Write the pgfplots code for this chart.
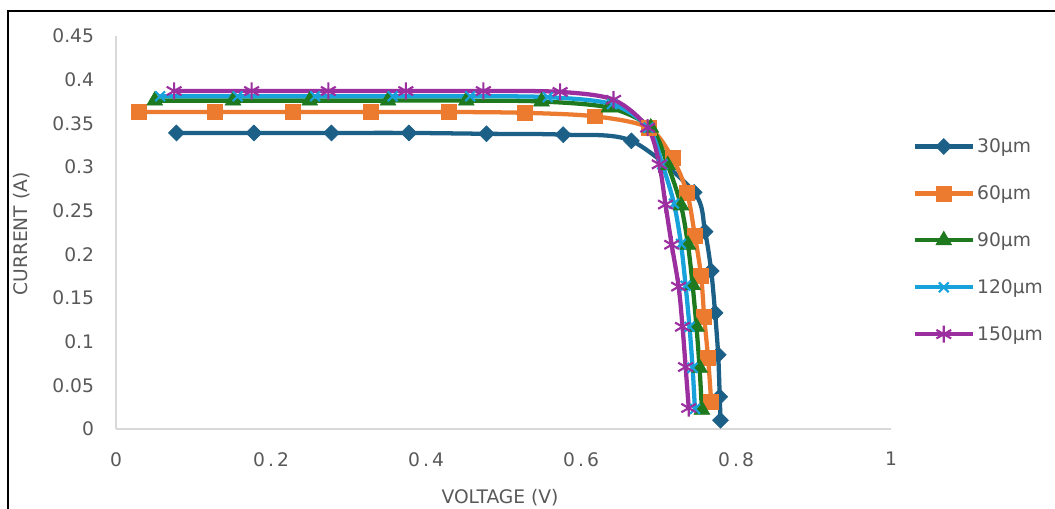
\documentclass[border=0pt]{standalone}
\usepackage{fontspec}
\setmainfont{DejaVu Sans}
\usepackage{pgfplots}
\pgfplotsset{compat=1.18}
\definecolor{cBlue}{HTML}{1D6087}
\definecolor{cOrange}{HTML}{EC7B30}
\definecolor{cGreen}{HTML}{1F7A1F}
\definecolor{cCyan}{HTML}{18A2DC}
\definecolor{cMag}{HTML}{9C2FA0}
\definecolor{txt}{HTML}{595959}
\definecolor{axl}{HTML}{D9D9D9}
\begin{document}
\begin{tikzpicture}
\useasboundingbox (0,0) rectangle (791.25pt,381.75pt);
\clip (0,0) rectangle (791.25pt,381.75pt);
\fill[white] (0,0) rectangle (791.25pt,381.75pt);
\draw[black, line width=1.6pt] (6pt,-5pt) -- (6pt,373.5pt) -- (800pt,373.5pt);
\begin{axis}[
  at={(87pt,60pt)}, anchor=south west,
  scale only axis, width=581.25pt, height=294.75pt,
  xmin=0, xmax=1, ymin=0, ymax=0.45,
  axis x line*=bottom, axis y line*=left,
  axis line style={axl, line width=1.2pt, -},
  major tick length=0pt,
  xtick={0,0.2,0.4,0.6,0.8,1},
  xticklabels={0,{0\,.\,2},{0\,.\,4},{0\,.\,6},{0\,.\,8},1},
  ytick={0,0.05,0.1,0.15,0.2,0.25,0.3,0.35,0.4,0.45},
  yticklabels={0,0.05,0.1,0.15,0.2,0.25,0.3,0.35,0.4,0.45},
  ticklabel style={font=\fontsize{14pt}{17pt}\selectfont, text=txt},
  xticklabel shift=14pt,
  yticklabel shift=13pt,
  xlabel={VOLTAGE (V)},
  ylabel={CURRENT (A)},
  every axis x label/.style={at={(axis description cs:0.4955,-0.174)}, anchor=center,
    font=\fontsize{14pt}{17pt}\selectfont, text=txt},
  every axis y label/.style={at={(axis description cs:-0.1213,0.496)}, anchor=center, rotate=90,
    font=\fontsize{14pt}{17pt}\selectfont, text=txt},
  legend style={at={(axis description cs:1.028,0.48)}, anchor=west, draw=none, fill=none,
    font=\fontsize{14pt}{17pt}\selectfont, text=txt, row sep=19.3pt, inner sep=0pt,
    nodes={inner sep=2pt}},
  legend cell align=left,
  legend image code/.code={\draw[mark repeat=2,mark phase=2,#1] plot coordinates {(0pt,0pt)(21.5pt,0pt)(43pt,0pt)};},
  every axis plot/.append style={line width=3.2pt, smooth, tension=0.5},
  clip=false,
]
\addplot[cBlue, mark=square*, mark size=4.2pt, mark options={rotate=45, solid, line width=0.5pt, fill=cBlue}] coordinates {
(0.078,0.339)(0.178,0.339)(0.278,0.339)(0.378,0.339)(0.478,0.338)(0.577,0.337)
(0.665,0.330)(0.746,0.271)(0.760,0.226)(0.768,0.181)(0.773,0.133)(0.777,0.085)
(0.779,0.037)(0.780,0.010)};
\addlegendentry{30µm}
\addplot[cOrange, mark=square*, mark size=5.6pt, mark options={solid, line width=0.5pt, fill=cOrange}] coordinates {
(0.029,0.363)(0.128,0.363)(0.228,0.363)(0.329,0.363)(0.429,0.363)(0.528,0.362)
(0.618,0.358)(0.687,0.345)(0.718,0.310)(0.737,0.270)(0.747,0.221)(0.755,0.175)
(0.759,0.128)(0.764,0.081)(0.768,0.031)};
\addlegendentry{60µm}
\addplot[cGreen, mark=triangle*, mark size=6.8pt, mark options={solid, line width=0.5pt, fill=cGreen}] coordinates {
(0.050,0.376)(0.151,0.376)(0.250,0.376)(0.351,0.376)(0.452,0.376)(0.549,0.375)
(0.636,0.368)(0.690,0.345)(0.712,0.302)(0.729,0.256)(0.738,0.211)(0.744,0.165)
(0.749,0.117)(0.753,0.070)(0.756,0.022)};
\addlegendentry{90µm}
\addplot[cCyan, mark=x, mark size=5.2pt, mark options={solid, line width=1.6pt}] coordinates {
(0.057,0.381)(0.157,0.381)(0.257,0.381)(0.357,0.381)(0.457,0.381)(0.557,0.380)
(0.640,0.372)(0.687,0.345)(0.705,0.303)(0.720,0.258)(0.729,0.212)(0.735,0.164)
(0.740,0.117)(0.744,0.070)(0.747,0.023)};
\addlegendentry{120µm}
\addplot[cMag, mark=asterisk, mark size=6.4pt, mark options={solid, line width=1.6pt}] coordinates {
(0.075,0.387)(0.175,0.387)(0.274,0.387)(0.374,0.387)(0.474,0.387)(0.573,0.386)
(0.642,0.377)(0.686,0.345)(0.701,0.303)(0.709,0.257)(0.717,0.211)(0.726,0.163)
(0.731,0.117)(0.735,0.071)(0.739,0.024)};
\addlegendentry{150µm}
\end{axis}
\end{tikzpicture}
\end{document}
